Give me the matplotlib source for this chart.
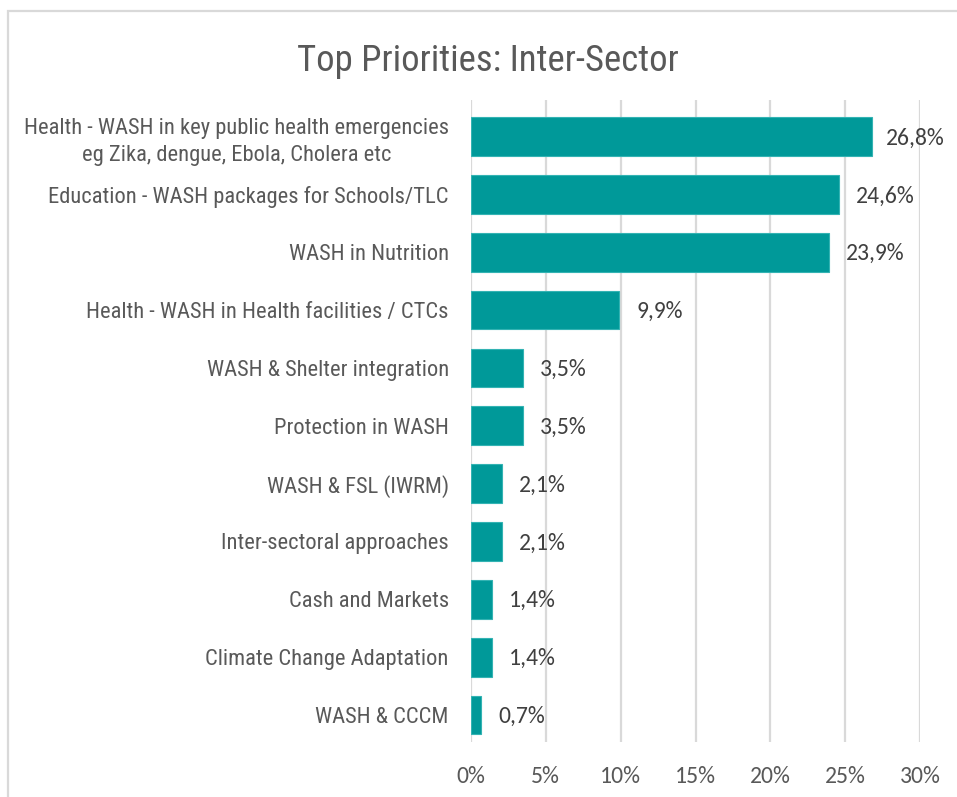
import matplotlib
matplotlib.use("Agg")
import matplotlib.pyplot as plt
from matplotlib.patches import Rectangle
from matplotlib import font_manager

categories = [
    "Health - WASH in key public health emergencies\neg Zika, dengue, Ebola, Cholera etc",
    "Education - WASH packages for Schools/TLC",
    "WASH in Nutrition",
    "Health - WASH in Health facilities / CTCs",
    "WASH & Shelter integration",
    "Protection in WASH",
    "WASH & FSL (IWRM)",
    "Inter-sectoral approaches",
    "Cash and Markets",
    "Climate Change Adaptation",
    "WASH & CCCM",
]
values = [26.8, 24.6, 23.9, 9.9, 3.5, 3.5, 2.1, 2.1, 1.4, 1.4, 0.7]
x_ticks = [0, 5, 10, 15, 20, 25, 30]
x_tick_labels = ["0%", "5%", "10%", "15%", "20%", "25%", "30%"]
title = "Top Priorities: Inter-Sector"

installed = {f.name for f in font_manager.fontManager.ttflist}


def pick(options, default):
    for name in options:
        if name in installed:
            return name
    return default


narrow = pick(["Liberation Sans Narrow", "Arial Narrow", "Roboto Condensed",
               "PT Sans Narrow", "Archivo Narrow"], "DejaVu Sans")
body = pick(["Carlito", "Calibri"], "Open Sans")

teal = "#009999"
grey_text = "#595959"
dark_text = "#404040"

W, H = 957, 797
fig = plt.figure(figsize=(W / 100, H / 100), dpi=100)
renderer = fig.canvas.get_renderer()


def fit_size(text, family, width_px, start=20.0):
    t = fig.text(0, 0, text, fontsize=start, family=family)
    w = t.get_window_extent(renderer).width
    t.remove()
    return start * width_px / w


label_size = fit_size("Education - WASH packages for Schools/TLC", narrow, 399)
title_size = fit_size(title, narrow, 381)

# light frame around the chart area
fig.patches.append(Rectangle((8 / W, -0.05), 1.1, 1 - 11 / H + 0.05,
                             transform=fig.transFigure, fill=False,
                             edgecolor="#d9d9d9", linewidth=1.6, zorder=0))

ax = fig.add_axes([471 / W, 1 - 742 / H, (920 - 471) / W, (742 - 100) / H])
y = list(range(len(categories)))
ax.barh(y, values, height=0.67, color=teal, edgecolor="#33b3b3", linewidth=0.8, zorder=3)
ax.set_xlim(0, 30)
ax.set_ylim(10.467, -0.631)

ax.set_xticks(x_ticks)
ax.set_xticklabels(x_tick_labels, fontsize=17, family=body, color=grey_text)
ax.set_yticks(y)
ax.set_yticklabels(categories, fontsize=label_size, family=narrow, color=grey_text,
                   multialignment="center", linespacing=1.35)
ax.tick_params(axis="both", length=0)
ax.tick_params(axis="x", pad=17.5)
ax.tick_params(axis="y", pad=16)
ax.grid(axis="x", color="#d9d9d9", linewidth=1.6, zorder=0)
for s in ax.spines.values():
    s.set_visible(False)

gap_pt = 17 * 72 / 100
drop_pt = -1.5 * 72 / 100
max_right = 945
for yi, v in zip(y, values):
    ann = ax.annotate(f"{v:.1f}%".replace(".", ","), (v, yi), xytext=(gap_pt, drop_pt),
                      textcoords="offset points", va="center", ha="left",
                      fontsize=17, family=body, color=dark_text, zorder=4)
    right = ann.get_window_extent(renderer).x1
    if right > max_right:
        ann.set_position((gap_pt - (right - max_right) * 72 / 100, drop_pt))

fig.text(488 / W, 1 - 71 / H, title, ha="center", va="baseline",
         fontsize=title_size, family=narrow, color=grey_text)

fig.savefig("out.png", dpi=100)
